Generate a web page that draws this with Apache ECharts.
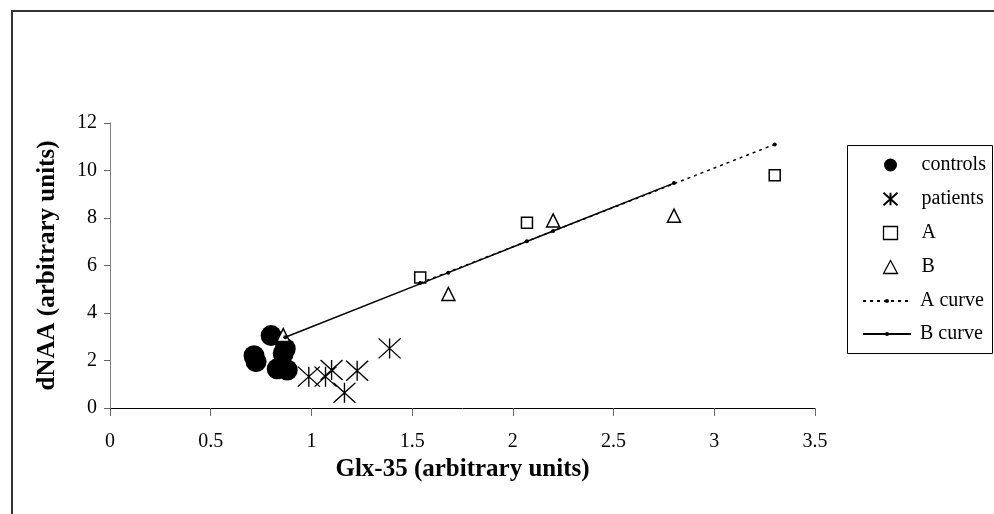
<!DOCTYPE html>
<html>
<head>
<meta charset="utf-8">
<script src="https://cdn.jsdelivr.net/npm/echarts@6/dist/echarts.min.js"></script>
<style>
  html, body { margin: 0; padding: 0; background: #fff; }
  #chart { width: 994px; height: 514px; }
</style>
</head>
<body>
<div id="chart"></div>
<script>
var FONT = '"Liberation Serif", "Times New Roman", serif';

// data
var controls = [[0.80, 3.05], [0.715, 2.2], [0.725, 1.95], [0.87, 2.5], [0.86, 2.3], [0.83, 1.65], [0.88, 1.6]];
var patients = [[0.987, 1.32], [1.07, 1.32], [1.10, 1.6], [1.227, 1.57], [1.164, 0.64], [1.388, 2.51]];
var groupA = [[1.54, 5.5], [2.07, 7.8], [3.3, 9.8]];
var groupB = [[0.86, 3.07], [1.68, 4.8], [2.2, 7.9], [2.8, 8.1]];
var curveA = [[1.54, 5.26], [2.07, 7.02], [3.3, 11.1]];
var curveB = [[0.87, 2.98], [1.68, 5.7], [2.2, 7.45], [2.8, 9.47]];

var asterisk = 'path://M0,0L22,20M22,0L0,20M11,0L11,20';

var chart = echarts.init(document.getElementById('chart'));

var legendText = { fontFamily: FONT, fontSize: 20, color: '#000' };

var option = {
	animation: false,
	backgroundColor: '#fff',
	textStyle: { fontFamily: FONT },
	grid: { left: 110, right: 179, top: 123, bottom: 106 },
	xAxis: {
		type: 'value', min: 0, max: 3.5, interval: 0.5,
		name: 'Glx-35 (arbitrary units)',
		nameLocation: 'middle', nameGap: 48,
		nameTextStyle: { fontFamily: FONT, fontSize: 25, fontWeight: 'bold', color: '#000' },
		axisLine: { onZero: false, lineStyle: { color: '#000', width: 1 } },
		axisTick: { show: true, length: 8, lineStyle: { color: '#666' } },
		axisLabel: { fontFamily: FONT, fontSize: 20, color: '#000', margin: 24 },
		splitLine: { show: false }
	},
	yAxis: {
		type: 'value', min: 0, max: 12, interval: 2,
		name: 'dNAA (arbitrary units)',
		nameLocation: 'middle', nameGap: 50,
		nameTextStyle: { fontFamily: FONT, fontSize: 25, fontWeight: 'bold', color: '#000' },
		axisLine: { show: true, lineStyle: { color: '#808080', width: 1 } },
		axisTick: { show: true, length: 6, lineStyle: { color: '#666' } },
		axisLabel: { fontFamily: FONT, fontSize: 20, color: '#000', margin: 13 },
		splitLine: { show: false }
	},
	legend: [
		{
			orient: 'vertical', left: 876, top: 150,
			itemWidth: 14, itemHeight: 13, itemGap: 14,
			textStyle: Object.assign({ padding: [0, 0, 0, 19] }, legendText),
			data: [
				{ name: 'controls' },
				{ name: 'patients' },
				{ name: 'A', itemStyle: { borderWidth: 1.3 } },
				{ name: 'B', itemStyle: { borderWidth: 1.3 } }
			]
		},
		{
			orient: 'vertical', left: 857, top: 286,
			itemWidth: 48, itemHeight: 5, itemGap: 13,
			textStyle: Object.assign({ padding: [0, 0, 0, 4], lineHeight: 20 }, legendText),
			data: ['A curve', 'B curve']
		}
	],
	graphic: [
		{ type: 'rect', shape: { x: 12, y: 11, width: 1100, height: 600 }, style: { fill: 'none', stroke: '#333', lineWidth: 2 }, silent: true },
		{ type: 'rect', shape: { x: 847.5, y: 145.5, width: 145, height: 208 }, style: { fill: 'none', stroke: '#000', lineWidth: 1 }, silent: true }
	],
	series: [
		{
			name: 'controls', type: 'scatter', data: controls,
			symbol: 'circle', symbolSize: 21,
			itemStyle: { color: '#000', opacity: 1 }
		},
		{
			name: 'patients', type: 'scatter', data: patients,
			symbol: asterisk, symbolSize: [22, 20],
			itemStyle: { color: 'none', borderColor: '#000', borderWidth: 1.3, opacity: 1 }
		},
		{
			name: 'A', type: 'scatter', data: groupA,
			symbol: 'rect', symbolSize: 11,
			itemStyle: { color: '#fff', borderColor: '#000', borderWidth: 1.5, opacity: 1 }
		},
		{
			name: 'B', type: 'scatter', data: groupB,
			symbol: 'triangle', symbolSize: 13,
			itemStyle: { color: '#fff', borderColor: '#000', borderWidth: 1.5, opacity: 1 }
		},
		{
			name: 'A curve', type: 'line', data: curveA,
			symbol: 'circle', symbolSize: 4, showSymbol: true,
			itemStyle: { color: '#000' },
			lineStyle: { color: '#000', width: 1.5, type: [3, 4] }
		},
		{
			name: 'B curve', type: 'line', data: curveB,
			symbol: 'circle', symbolSize: 4, showSymbol: true,
			itemStyle: { color: '#000' },
			lineStyle: { color: '#000', width: 1.5, type: 'solid' }
		}
	]
};

chart.setOption(option);
</script>
</body>
</html>
